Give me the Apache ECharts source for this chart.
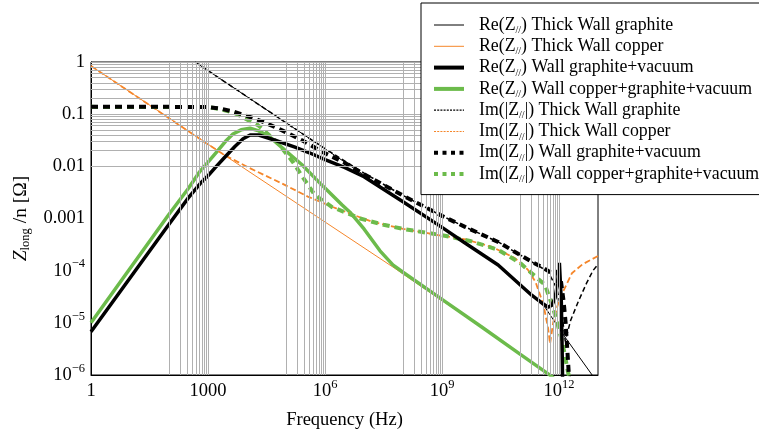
<!DOCTYPE html>
<html>
<head>
<meta charset="utf-8">
<script src="https://cdn.jsdelivr.net/npm/echarts@6/dist/echarts.min.js"></script>
<style>
  html, body { margin: 0; padding: 0; background: #fff; }
  #chart { width: 759px; height: 437px; }
</style>
</head>
<body>
<div id="chart"></div>
<script>
// curves, as [log10 f (Hz), log10 Zlong/n (Ohm)]
const reThickGraphite = [[2.67, 0], [6, -1.665], [9, -3.17], [10, -3.67], [10.44, -3.89], [11.3, -4.45],
  [11.64, -4.7], [12.15, -5.27], [12.85, -6.0]];
const reThickCopper = [[0, -0.075], [4, -2.075], [7.74, -3.93], [9, -4.575], [10, -5.075], [11, -5.6], [11.8, -6.03]];
const reWallGraphiteVac = [[0, -5.17], [1, -4.14], [2, -3.11], [2.5, -2.6], [2.8, -2.33], [3, -2.18], [3.18, -2.03],
  [3.4, -1.85], [3.69, -1.62], [3.9, -1.47], [4.08, -1.4], [4.3, -1.4], [4.72, -1.5], [5.23, -1.63], [5.6, -1.74],
  [6, -1.87], [6.5, -2.02], [7, -2.2], [8, -2.68], [9, -3.17], [9.59, -3.47], [10.44, -3.89], [11.3, -4.47],
  [11.6, -4.64], [11.72, -4.7], [11.82, -4.66], [11.9, -4.52], [11.96, -4.25], [12.01, -3.85], [12.04, -3.88],
  [12.06, -4.6], [12.08, -5.5], [12.1, -6.5]];
const reWallCuGraphiteVac = [[0, -5.0], [1, -3.96], [2, -2.92], [2.5, -2.42], [2.79, -2.1], [3, -1.92], [3.23, -1.72],
  [3.45, -1.52], [3.64, -1.38], [3.85, -1.3], [4.08, -1.27], [4.3, -1.32], [4.59, -1.44], [4.97, -1.69], [5.41, -1.97],
  [5.92, -2.36], [6.44, -2.74], [6.64, -2.88], [7, -3.2], [7.41, -3.62], [7.74, -3.89], [8, -4.03], [9, -4.55],
  [10, -5.07], [11, -5.6], [11.86, -6.05]];
const imThickGraphite = [[2.67, 0], [5, -1.165], [6, -1.66], [7, -2.13], [8, -2.56], [9, -2.95], [9.59, -3.16],
  [10.44, -3.45], [11.3, -3.83], [11.72, -4.02], [11.95, -4.35], [12.08, -4.85], [12.16, -5.35], [12.3, -4.95],
  [12.49, -4.6], [12.7, -4.25], [12.87, -4.0], [13, -3.88]];
const imThickCopper = [[0, -0.075], [3, -1.58], [3.44, -1.79], [4.03, -2.02], [4.9, -2.33], [5.56, -2.58], [6.2, -2.78],
  [6.8, -2.95], [7.2, -3.06], [8, -3.2], [9, -3.33], [9.6, -3.4], [10.3, -3.55], [10.87, -3.76], [11.2, -3.98],
  [11.4, -4.22], [11.6, -4.65], [11.72, -5.1], [11.77, -5.4], [11.85, -5.0], [11.95, -4.7], [12.03, -4.52],
  [12.33, -4.05], [12.6, -3.88], [13, -3.72]];
const imWallGraphiteVac = [[0, -0.86], [2, -0.86], [3, -0.865], [3.3, -0.89], [3.64, -0.95], [4.03, -1.04],
  [4.46, -1.16], [4.9, -1.31], [5.41, -1.5], [5.92, -1.72], [6.5, -1.93], [7, -2.15], [8, -2.56], [9, -2.95],
  [9.59, -3.16], [10.44, -3.45], [11.3, -3.83], [11.6, -3.95], [11.8, -4.04], [11.95, -4.02], [12.05, -4.2],
  [12.12, -4.6], [12.17, -5.0], [12.22, -5.6], [12.27, -6.2]];
const imWallCuGraphiteVac = [[0, -0.86], [3, -0.865], [3.3, -0.9], [3.69, -0.98], [4.28, -1.21], [4.79, -1.55],
  [5.18, -1.92], [5.44, -2.22], [5.74, -2.55], [6.18, -2.78], [6.51, -2.88], [6.9, -3.0], [7.5, -3.12], [8, -3.2],
  [9, -3.32], [9.72, -3.43], [10.44, -3.6], [11, -3.85], [11.3, -4.05], [11.64, -4.27], [11.85, -4.72],
  [11.97, -5.04], [12.1, -5.42], [12.23, -5.94], [12.28, -6.1]];

// decades of x that carry the 2..9 minor grid lines
const xMinorDecades = [2, 5, 8, 11];
const yDecades = [-6, -5, -4, -3, -2, -1];

const FONT = 'Liberation Serif';
const ORANGE = '#f5862a';
const GREEN = '#6cbb4b';

const toXY = pts => pts.map(p => [Math.pow(10, p[0]), Math.pow(10, p[1])]);

const names = [
  'Re thick graphite', 'Re thick copper', 'Re wall graphite', 'Re wall copper',
  'Im thick graphite', 'Im thick copper', 'Im wall graphite', 'Im wall copper'
];
const legendText = {
  'Re thick graphite': '{n|Re(Z}{s|//}{n|) Thick Wall graphite}',
  'Re thick copper': '{n|Re(Z}{s|//}{n|) Thick Wall copper}',
  'Re wall graphite': '{n|Re(Z}{s|//}{n|) Wall graphite+vacuum}',
  'Re wall copper': '{n|Re(Z}{s|//}{n|) Wall copper+graphite+vacuum}',
  'Im thick graphite': '{n|Im(|Z}{s|//}{n||) Thick Wall graphite}',
  'Im thick copper': '{n|Im(|Z}{s|//}{n||) Thick Wall copper}',
  'Im wall graphite': '{n|Im(|Z}{s|//}{n||) Wall graphite+vacuum}',
  'Im wall copper': '{n|Im(|Z}{s|//}{n||) Wall copper+graphite+vacuum}'
};
// legend swatches
const legendLine = {
  'Re thick graphite': { width: 1, type: 'solid', color: '#000' },
  'Re thick copper': { width: 1, type: 'solid', color: ORANGE },
  'Re wall graphite': { width: 4, type: 'solid', color: '#000' },
  'Re wall copper': { width: 4, type: 'solid', color: GREEN },
  'Im thick graphite': { width: 1.2, type: [2, 1.2], color: '#000' },
  'Im thick copper': { width: 1.2, type: [2, 1.2], color: ORANGE },
  'Im wall graphite': { width: 4, type: [4, 4.5], color: '#000' },
  'Im wall copper': { width: 4, type: [4, 4.5], color: GREEN }
};

// grid lines
const vLines = [];
xMinorDecades.forEach(d => {
  for (let k = 1; k <= 10; k++) vLines.push({ xAxis: k * Math.pow(10, d) });
});
const hLines = [];
yDecades.forEach(d => {
  for (let k = 1; k <= 10; k++) hLines.push({ yAxis: k * Math.pow(10, d) });
});

const sup = n => '{b|10}{p|' + String(n).replace('-', '\u2212') + '}';
const tickRich = {
  b: { fontFamily: FONT, fontSize: 18.5, color: '#000', lineHeight: 26 },
  p: { fontFamily: FONT, fontSize: 12.5, color: '#000', lineHeight: 13, verticalAlign: 'top' }
};

const chart = echarts.init(document.getElementById('chart'));

const line = (name, data, color, width, type, z) => ({
  name: name,
  type: 'line',
  data: toXY(data),
  showSymbol: false,
  symbol: 'none',
  smooth: false,
  z: z,
  lineStyle: { color: color, width: width, type: type },
  itemStyle: { color: color }
});

chart.setOption({
  animation: false,
  backgroundColor: '#fff',
  grid: {
    left: 91, top: 62, right: 161, bottom: 62,
    show: true, borderColor: '#000', borderWidth: 1
  },
  legend: {
    data: names.map(n => ({ name: n, lineStyle: legendLine[n] })),
    orient: 'vertical',
    left: 421,
    top: 3,
    padding: [13, 8, 10, 11],
    backgroundColor: '#fff',
    borderColor: '#000',
    borderWidth: 1,
    itemWidth: 30,
    itemHeight: 10,
    itemGap: 1.8,
    z: 10,
    itemStyle: { color: 'rgba(0,0,0,0)', borderColor: 'rgba(0,0,0,0)', borderWidth: 0 },
    formatter: n => legendText[n],
    textStyle: {
      color: '#000',
      padding: [0, 0, 0, 10],
      rich: {
        n: { fontFamily: FONT, fontSize: 17.8, color: '#000', lineHeight: 21 },
        s: { fontFamily: FONT, fontSize: 10, color: '#000', lineHeight: 15, verticalAlign: 'bottom' }
      }
    }
  },
  xAxis: {
    type: 'log',
    logBase: 10,
    min: 1,
    max: 1e13,
    interval: 3,
    name: 'Frequency (Hz)',
    nameLocation: 'middle',
    nameGap: 36,
    nameTextStyle: { fontFamily: FONT, fontSize: 18.5, color: '#000' },
    axisLine: { lineStyle: { color: '#000' } },
    axisTick: { show: false },
    splitLine: { show: false },
    axisLabel: {
      margin: 3,
      showMaxLabel: false,
      color: '#000',
      formatter: v => {
        const e = Math.round(Math.log10(v));
        if (e === 0) return '{b|1}';
        if (e === 3) return '{b|1000}';
        return sup(e);
      },
      rich: tickRich
    }
  },
  yAxis: {
    type: 'log',
    logBase: 10,
    min: 1e-6,
    max: 1,
    interval: 1,
    name: '{i|Z}{sub|long}{n| /n [\u03a9]}',
    nameLocation: 'middle',
    nameRotate: 90,
    nameGap: 57,
    nameTextStyle: {
      rich: {
        i: { fontFamily: FONT, fontSize: 19.5, fontStyle: 'italic', color: '#000', lineHeight: 24 },
        sub: { fontFamily: FONT, fontSize: 12.5, color: '#000', lineHeight: 16, verticalAlign: 'bottom' },
        n: { fontFamily: FONT, fontSize: 19.5, color: '#000', lineHeight: 24 }
      }
    },
    axisLine: { lineStyle: { color: '#000' } },
    axisTick: { show: false },
    splitLine: { show: false },
    axisLabel: {
      margin: 6,
      color: '#000',
      formatter: v => {
        const e = Math.round(Math.log10(v));
        if (e === 0) return '{b|1}';
        if (e === -1) return '{b|0.1}';
        if (e === -2) return '{b|0.01}';
        if (e === -3) return '{b|0.001}';
        return sup(e);
      },
      rich: tickRich
    }
  },
  series: [
    {
      name: 'grid',
      type: 'line',
      data: [],
      silent: true,
      z: 1,
      markLine: {
        silent: true,
        symbol: 'none',
        animation: false,
        label: { show: false },
        lineStyle: { color: '#b0b0b0', width: 1, type: 'solid' },
        data: vLines.concat(hLines)
      }
    },
    line(names[0], reThickGraphite, '#000', 1, 'solid', 3),
    line(names[1], reThickCopper, ORANGE, 1, 'solid', 3),
    line(names[2], reWallGraphiteVac, '#000', 3.5, 'solid', 4),
    line(names[3], reWallCuGraphiteVac, GREEN, 3.5, 'solid', 3),
    line(names[4], imThickGraphite, '#000', 1.5, [5, 3], 3),
    line(names[5], imThickCopper, ORANGE, 1.8, [6, 3], 3),
    line(names[6], imWallGraphiteVac, '#000', 4, [7, 5], 4),
    line(names[7], imWallCuGraphiteVac, GREEN, 4, [7, 5], 3)
  ]
});
</script>
</body>
</html>
